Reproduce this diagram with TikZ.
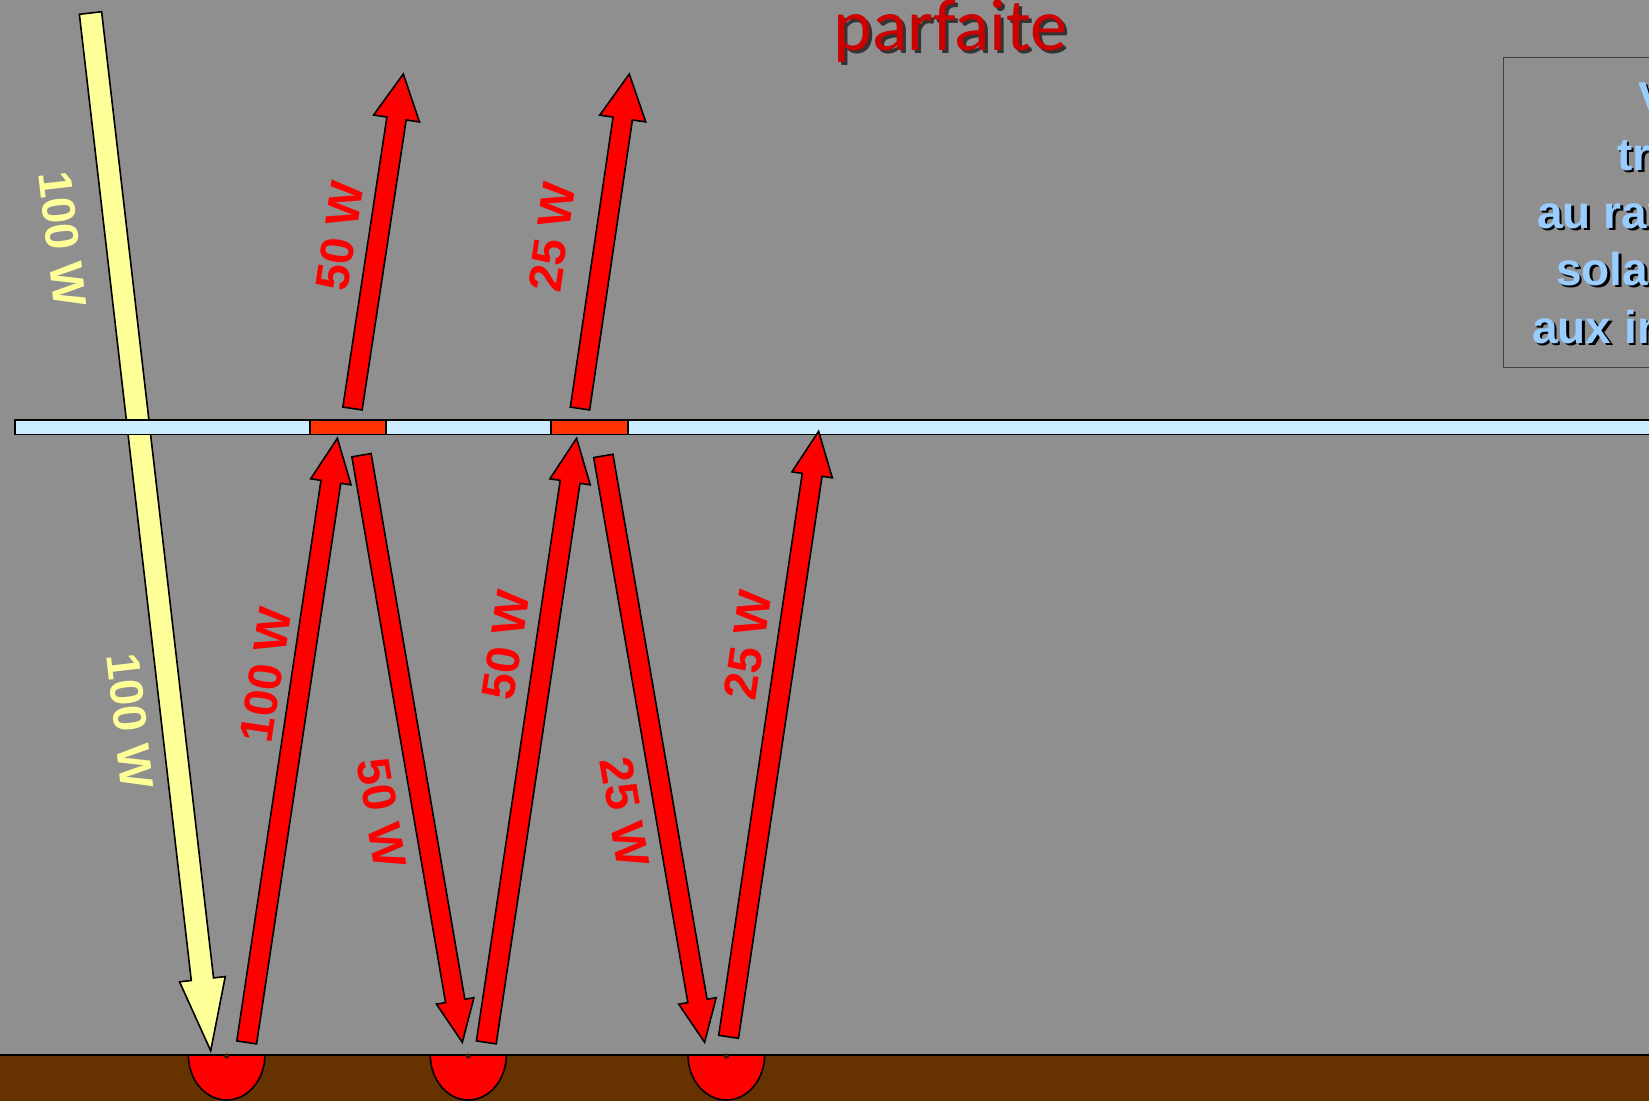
\documentclass[tikz,border=0pt]{standalone}
\usepackage{fontspec}
\setsansfont{Liberation Sans}
\newfontfamily\carlito{Carlito}
\usetikzlibrary{calc}
\definecolor{bg}{RGB}{143,143,143}
\definecolor{glass}{RGB}{204,236,255}
\definecolor{hot}{RGB}{255,51,0}
\definecolor{wred}{RGB}{255,0,0}
\definecolor{sun}{RGB}{255,255,153}
\definecolor{soil}{RGB}{102,51,0}
\definecolor{titlered}{RGB}{204,0,0}
\definecolor{boxblue}{RGB}{153,204,255}
\definecolor{boxline}{RGB}{64,64,64}
% #1 fill, #2 start, #3 tip, #4 shaft half width, #5 head half width, #6 head length, #7 prefix
\newcommand{\blockarrow}[7]{%
  \coordinate (#7h) at ($(#3)!#6!(#2)$);
  \draw[arrowline, fill=#1]
    ($(#2)!#4!90:(#3)$) -- ($(#7h)!#4!90:(#3)$) -- ($(#7h)!#5!90:(#3)$) -- (#3)
    -- ($(#7h)!#5!-90:(#3)$) -- ($(#7h)!#4!-90:(#3)$) -- ($(#2)!#4!-90:(#3)$) -- cycle;
}
\newcommand{\lblfont}{\sffamily\bfseries\fontsize{47}{56}\selectfont}
\newcommand{\boxfont}{\sffamily\bfseries\fontsize{46}{54}\selectfont}
\begin{document}
\begin{tikzpicture}[x=1pt,y=-1pt,
  arrowline/.style={draw=black, line width=1.6pt, line join=miter},
  lbl/.style={font=\lblfont, inner sep=0pt},
  boxtxt/.style={font=\boxfont, inner sep=0pt, anchor=base west},
  semi/.style={draw=black, line width=1.6pt, fill=wred}]
\useasboundingbox (0,0) rectangle (1649,1101);
\clip (0,0) rectangle (1649,1101);
\fill[bg] (0,0) rectangle (1649,1101);

% ground
\fill[soil] (0,1055) rectangle (1649,1101);
\draw[line width=2pt] (0,1055) -- (1649,1055);

% sun ray
\coordinate (ys) at (90.5,13);
\coordinate (ye) at (210.7,1050.7);
\blockarrow{sun}{ys}{ye}{11.2pt}{23pt}{72pt}{yA}

% glass pane
\draw[fill=glass, line width=1.6pt] (15,420) rectangle (1670,434.5);
\draw[fill=hot, line width=1.2pt] (310,420) rectangle (386,434.5);
\draw[fill=hot, line width=1.2pt] (551,420) rectangle (628,434.5);

% emitted rays through glass
\coordinate (t1s) at (352.5,408.5);
\coordinate (t1e) at (403.3,74);
\coordinate (t2s) at (580,408.5);
\coordinate (t2e) at (629.3,74);
\blockarrow{wred}{t1s}{t1e}{9.75pt}{23.2pt}{45pt}{tA}
\blockarrow{wred}{t2s}{t2e}{9.75pt}{23.2pt}{45pt}{tB}

% rays between ground and glass
\coordinate (a1s) at (246.7,1042.4);
\coordinate (a1e) at (337.4,438.3);
\coordinate (a2s) at (361.5,455.2);
\coordinate (a2e) at (462.3,1042.3);
\coordinate (a3s) at (486.3,1042.4);
\coordinate (a3e) at (576.6,438.3);
\coordinate (a4s) at (603.3,455.9);
\coordinate (a4e) at (704.6,1042.3);
\coordinate (a5s) at (728.6,1036.8);
\coordinate (a5e) at (818.6,431.3);
\blockarrow{wred}{a1s}{a1e}{10pt}{20.4pt}{44pt}{aA}
\blockarrow{wred}{a2s}{a2e}{9.75pt}{19pt}{42pt}{aB}
\blockarrow{wred}{a3s}{a3e}{10pt}{20.4pt}{44pt}{aC}
\blockarrow{wred}{a4s}{a4e}{9.75pt}{19pt}{42pt}{aD}
\blockarrow{wred}{a5s}{a5e}{10pt}{20.4pt}{44pt}{aE}

% absorbing spots
\draw[semi] (188.3,1055) arc[start angle=180, end angle=0, x radius=38.3, y radius=45] -- cycle;
\draw[semi] (430.3,1055) arc[start angle=180, end angle=0, x radius=38, y radius=45] -- cycle;
\draw[semi] (688,1055) arc[start angle=180, end angle=0, x radius=38.3, y radius=45] -- cycle;
\fill[soil!50!black] (226.6,1056) circle[radius=2.6];
\fill[soil!50!black] (468.3,1056) circle[radius=2.6];
\fill[soil!50!black] (726.3,1056) circle[radius=2.6];

% labels
\node[lbl, text=sun, rotate=-83.4] (ly1) at (62.5,239) {100 W};
\node[lbl, text=sun, rotate=-83.4] (ly2) at (130,721) {100 W};
\node[lbl, text=wred, rotate=81.4] (lt1) at (340,236) {50 W};
\node[lbl, text=wred, rotate=81.6] (lt2) at (552,237) {25 W};
\node[lbl, text=wred, rotate=81.5] (la1) at (266,675) {100 W};
\node[lbl, text=wred, rotate=-80.3] (la2) at (382,813) {50 W};
\node[lbl, text=wred, rotate=81.5] (la3) at (506,645) {50 W};
\node[lbl, text=wred, rotate=-80.2] (la4) at (625,812) {25 W};
\node[lbl, text=wred, rotate=81.5] (la5) at (748,645) {25 W};

% title fragment
\node[anchor=base west, inner sep=0pt, font=\carlito\fontsize{74}{84}\selectfont, text=black!80] (titsh) at (836,53) {parfaite};
\node[anchor=base west, inner sep=0pt, font=\carlito\fontsize{74}{84}\selectfont, text=titlered] (tit) at (833,50) {parfaite};

% info box
\draw[boxline, line width=1pt] (1503,57) rectangle (1720,367);
\foreach \t/\x/\y [count=\i] in {Vitre/1638/114, transparente/1617/170, au rayonnement/1537/228, {solaire, opaque}/1556/285, aux infrarouges/1532/343}{
  \node[boxtxt, text=black] (bs\i) at (\x+2.5,\y+2.5) {\t};
  \node[boxtxt, text=boxblue] (bt\i) at (\x,\y) {\t};
}
\end{tikzpicture}
\end{document}
